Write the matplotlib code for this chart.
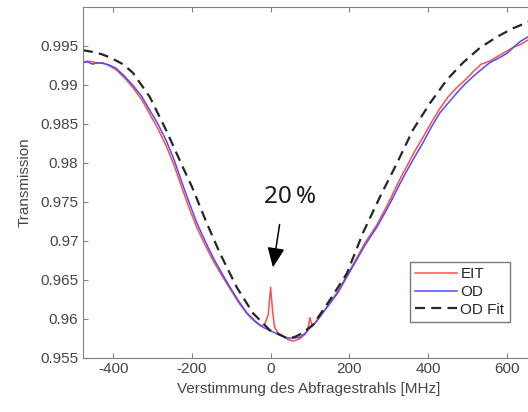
import matplotlib
matplotlib.use("Agg")
import matplotlib.pyplot as plt

# detuning [MHz] and transmission
od_freq = [-477, -465, -452, -440, -426, -410, -393, -372, -350, -328, -307, -286,
           -266, -245, -223, -205, -187, -167, -147, -125, -103, -82, -60, -40,
           -20, 0, 24, 44, 60, 74, 88, 100, 112, 125, 146, 171, 190, 214, 240,
           270, 290, 308, 329, 347, 367, 387, 408, 430, 451, 473, 493, 514, 535,
           557, 580, 601, 618, 634, 654, 672]
od_trans = [0.9928, 0.9929, 0.9926, 0.9928, 0.9927, 0.9925, 0.9921, 0.9911, 0.9899,
            0.9885, 0.9867, 0.9849, 0.9829, 0.9803, 0.9771, 0.9746, 0.9722, 0.9700,
            0.9679, 0.9659, 0.9640, 0.9623, 0.9607, 0.9597, 0.9589, 0.9584, 0.9579,
            0.9575, 0.9575, 0.9576, 0.9581, 0.9588, 0.9594, 0.9602, 0.9616, 0.9633,
            0.9650, 0.9671, 0.9694, 0.9717, 0.9735, 0.9752, 0.9773, 0.9790, 0.9808,
            0.9825, 0.9845, 0.98635, 0.9876, 0.9889, 0.9900, 0.9910, 0.9919, 0.9928,
            0.9934, 0.9940, 0.9948, 0.9955, 0.9961, 0.9964]

eit_freq = [-477, -465, -452, -440, -426, -410, -393, -372, -350, -328, -307, -286,
            -266, -245, -223, -205, -187, -167, -147, -125, -103, -82, -60, -40,
            -24, -14, -6, 0, 5, 10, 18, 30, 44, 58, 74, 88, 94, 100, 106, 112, 125,
            146, 171, 190, 214, 240, 270, 290, 308, 329, 347, 367, 387, 408, 430,
            451, 473, 493, 514, 535, 557, 580, 601, 618, 634, 654, 672]
eit_trans = [0.9929, 0.9930, 0.9929, 0.9927, 0.9928, 0.9924, 0.9919, 0.9909, 0.9896,
             0.9881, 0.9862, 0.9843, 0.9822, 0.9796, 0.9764, 0.9739, 0.9716, 0.9695,
             0.9675, 0.9656, 0.9638, 0.9621, 0.9606, 0.9596, 0.9590, 0.9594, 0.9605,
             0.9640, 0.9610, 0.9589, 0.9582, 0.9578, 0.9573, 0.9571, 0.9574, 0.9580,
             0.9585, 0.9601, 0.9590, 0.9593, 0.9602, 0.9617, 0.9635, 0.9652, 0.9673,
             0.9697, 0.9720, 0.9739, 0.9757, 0.9779, 0.9796, 0.9815, 0.9832, 0.9851,
             0.9869, 0.9884, 0.9896, 0.9905, 0.9916, 0.9926, 0.9930, 0.9937, 0.9943,
             0.9948, 0.9951, 0.9957, 0.9960]

fit_freq = [-477, -455, -430, -405, -375, -350, -307, -266, -223, -200, -162, -129,
            -86, -45, -2, 24, 40, 60, 80, 108, 151, 194, 235, 278, 321, 362, 405,
            448, 489, 532, 575, 616, 654, 672]
fit_trans = [0.9944, 0.9942, 0.9939, 0.9934, 0.9926, 0.9915, 0.9884, 0.9842, 0.9794,
             0.9769, 0.9722, 0.9684, 0.9640, 0.9607, 0.9585, 0.9579, 0.9575, 0.9576,
             0.9581, 0.9592, 0.9624, 0.9658, 0.9710, 0.9756, 0.9799, 0.9842, 0.9876,
             0.9906, 0.9928, 0.9947, 0.9961, 0.9972, 0.9980, 0.9983]

xticks = [-400, -200, 0, 200, 400, 600]
yticks = [0.955, 0.96, 0.965, 0.97, 0.975, 0.98, 0.985, 0.99, 0.995]
ytick_labels = ["0.955", "0.96", "0.965", "0.97", "0.975", "0.98", "0.985", "0.99", "0.995"]

plt.rcParams['font.family'] = ['Liberation Sans', 'DejaVu Sans']

fig = plt.figure(figsize=(5.28, 4.12), dpi=100)
ax = fig.add_axes([83.3 / 528, 54.5 / 412, 451.7 / 528, 351 / 412])

ax.plot(eit_freq, eit_trans, color='#ff4d4d', lw=1.1, label='EIT')
ax.plot(od_freq, od_trans, color='#4d4dff', lw=1.1, label='OD')
ax.plot(fit_freq, fit_trans, color='#262626', lw=1.6, ls=(0, (4.5, 2.8)), label='OD Fit')

ax.set_xlim(-476, 672)
ax.set_ylim(0.955, 1.0)
ax.set_xticks(xticks)
ax.set_xticklabels([str(t) for t in xticks])
ax.set_yticks(yticks)
ax.set_yticklabels(ytick_labels)

gray = '#808080'
for side in ['top', 'left', 'bottom']:
    ax.spines[side].set_color(gray)
ax.spines['right'].set_visible(False)
ax.tick_params(direction='in', length=3.5, width=0.8, color=gray, top=True,
               labelsize=11, labelcolor='#454545')

ax.set_xlabel('Verstimmung des Abfragestrahls [MHz]', fontsize=11, color='#454545')
ax.set_ylabel('Transmission', fontsize=11, color='#454545', labelpad=6)

ax.annotate('', xy=(5, 0.9662), xytext=(24, 0.9724),
            arrowprops=dict(arrowstyle='-|>,head_length=0.8,head_width=0.35',
                            color='black', lw=1.1, mutation_scale=15))
ax.text(49, 0.9756, '20\u2009%', fontsize=17.5, family=['Noto Sans', 'DejaVu Sans'],
        color='#1a1a1a', ha='center', va='center')

leg = ax.legend(loc='upper left', bbox_to_anchor=(0.7233, 0.2729), borderaxespad=0,
                fontsize=11, handlelength=2.75, handletextpad=0.2, labelspacing=0.25,
                borderpad=0.35, fancybox=False, framealpha=1, edgecolor='#7a7a7a')
leg.get_frame().set_linewidth(1.0)
for t in leg.get_texts():
    t.set_color('#262626')

fig.savefig('out.png', dpi=100)
